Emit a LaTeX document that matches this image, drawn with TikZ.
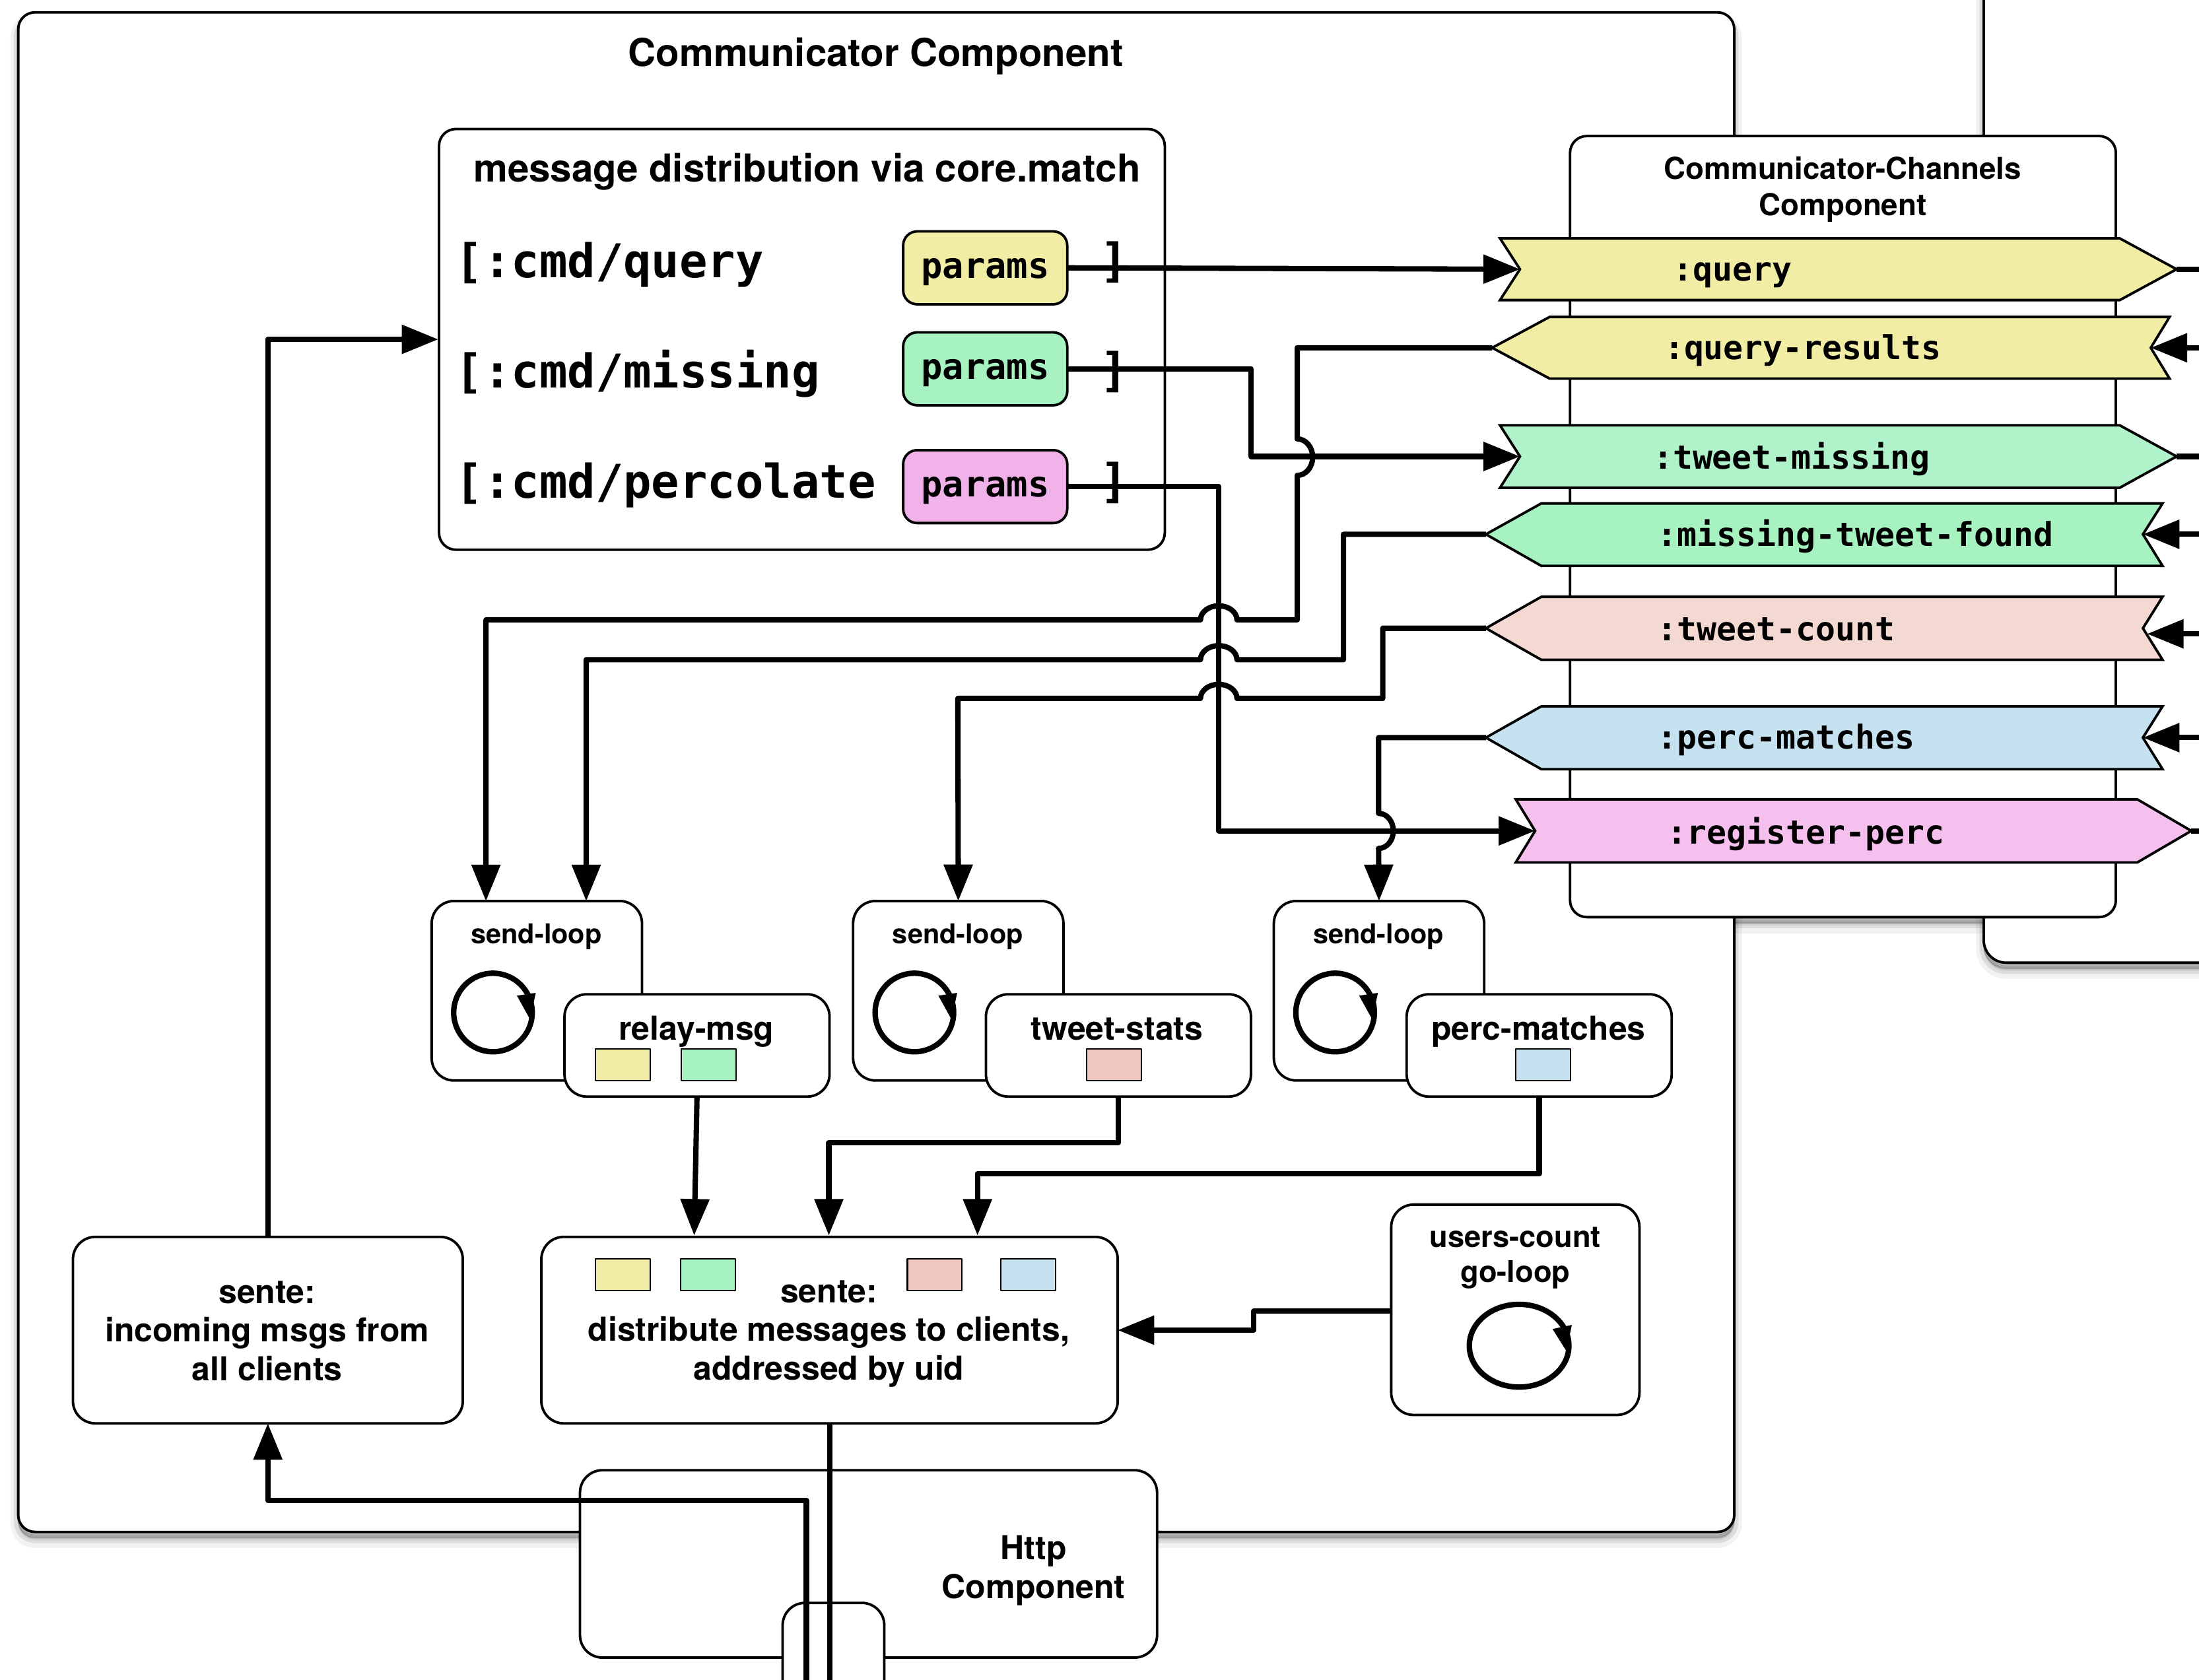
\documentclass[tikz,border=0pt]{standalone}
\usepackage{fontspec}
\setmainfont{TeX Gyre Heros}
\newfontfamily\codefont{DejaVu Sans Mono}
\usepackage{pgf}
\usetikzlibrary{positioning}
\usetikzlibrary{arrows.meta}
\usetikzlibrary{shadows}
\definecolor{qyellow}{HTML}{F1EDA4}
\definecolor{mgreen}{HTML}{B0F3CB}
\definecolor{fgreen}{HTML}{A6F2C0}
\definecolor{cred}{HTML}{F4D9D2}
\definecolor{pblue}{HTML}{C6E2F1}
\definecolor{rpink}{HTML}{F5BFEE}
\definecolor{ppink}{HTML}{F1B2EA}
\definecolor{sred}{HTML}{F0C8C0}
\begin{document}
\begin{tikzpicture}[x=1pt,y=-1pt,>={Triangle[length=26pt,width=20pt]},line join=round]
	\tikzstyle{box}=[draw,fill=white,rectangle,rounded corners=16pt,line width=1.8pt,inner sep=0pt,outer sep=0pt]
	\tikzstyle{blurred}=[general shadow={shadow yshift=-6pt,fill=black,draw=black,opacity=.05,line width=11pt},
		general shadow={shadow yshift=-5pt,fill=black,draw=black,opacity=.09,line width=6pt},
		general shadow={shadow yshift=-4pt,fill=black,draw=black,opacity=.12,line width=1pt}]
	\tikzstyle{title}=[inner sep=0pt,align=center,font=\fontsize{23.5}{27.5}\selectfont\bfseries]
	\tikzstyle{small}=[inner sep=0pt,align=center,font=\fontsize{19.5}{25}\selectfont\bfseries]
	\tikzstyle{band}=[draw,line width=1.8pt,line join=miter]
	\tikzstyle{bandtext}=[inner sep=0pt,anchor=west,font=\fontsize{23.45}{26}\selectfont\codefont\bfseries]
	\tikzstyle{cmd}=[inner sep=0pt,font=\fontsize{33.2}{36}\selectfont\codefont\bfseries]
	\tikzstyle{params}=[box,rounded corners=10pt,minimum width=117pt,minimum height=52pt,text height=19.8pt,text depth=5pt,font=\fontsize{25.3}{28}\selectfont\codefont\bfseries]
	\tikzstyle{swatch}=[draw,line width=1pt,inner sep=0pt,outer sep=0pt,minimum width=39pt,minimum height=22.5pt]
	\tikzstyle{wire}=[->,line width=3.8pt]
	\tikzstyle{spin}=[line width=3.9pt]

	\useasboundingbox (0,0) rectangle (1568,1198);
	\clip (0,0) rectangle (1568,1198);
	\fill[white] (0,0) rectangle (1568,1198);

	% big components
	\fill[white,blurred] (1119.5,97) rectangle (1508.7,654);
	\node[box,blurred,rounded corners=12pt,minimum width=1223.6pt,minimum height=1083.6pt] (comm) at (624.8,550.6) {};
	\node[box,blurred,minimum width=300pt,minimum height=760pt] (right) at (1564.5,306.5) {};
	\node[box,rounded corners=12pt,minimum width=389.2pt,minimum height=557pt] (chan) at (1314.1,375.5) {};
	\node[title,font=\fontsize{27.4}{30}\selectfont\bfseries] (comm_t) at (624.5,40) {Communicator Component};
	\node[title,font=\fontsize{21.5}{26}\selectfont\bfseries] (chan_t) at (1314,135) {Communicator-Channels\\Component};

	% message distribution
	\node[box,rounded corners=12pt,minimum width=517.5pt,minimum height=300pt] (match) at (571.8,242) {};
	\node[title,font=\fontsize{27.4}{30}\selectfont\bfseries] (match_t) at (575.5,122.5) {message distribution via core.match};
	\node[cmd,anchor=base west] (cmd_q) at (324.5,198) {[:cmd/query};
	\node[cmd,anchor=base west] (cmd_m) at (324.5,276.6) {[:cmd/missing};
	\node[cmd,anchor=base west] (cmd_p) at (324.5,355) {[:cmd/percolate};
	\node[params,fill=qyellow] (params_q) at (702.5,191) {params};
	\node[params,fill=fgreen] (params_m) at (702.5,263) {params};
	\node[params,fill=ppink] (params_p) at (702.5,347) {params};
	\node[cmd] (end_q) at (794.5,187) {]};
	\node[cmd] (end_m) at (794.5,265) {]};
	\node[cmd] (end_p) at (794.5,344.5) {]};

	% channels
	\draw[band,fill=qyellow] (1069.6,170) -- (1511.5,170) -- (1552,192) -- (1511.5,214) -- (1069.6,214) -- (1083.8,192) -- cycle;
	\draw[band,fill=qyellow] (1064,248) -- (1105,226) -- (1547,226) -- (1533.6,248) -- (1547,270) -- (1105,270) -- cycle;
	\draw[band,fill=mgreen] (1069.6,303.3) -- (1511.5,303.3) -- (1552,325.5) -- (1511.5,347.8) -- (1069.6,347.8) -- (1083.8,325.5) -- cycle;
	\draw[band,fill=fgreen] (1059.5,381) -- (1099,359) -- (1542,359) -- (1528,381) -- (1542,403.5) -- (1099,403.5) -- cycle;
	\draw[band,fill=cred] (1059.5,448) -- (1099,425.6) -- (1542,425.6) -- (1528,448) -- (1542,470.5) -- (1099,470.5) -- cycle;
	\draw[band,fill=pblue] (1059.5,526) -- (1099,503.7) -- (1542,503.7) -- (1528,526) -- (1542,548.5) -- (1099,548.5) -- cycle;
	\draw[band,fill=rpink] (1080.8,570) -- (1524,570) -- (1562.5,592.5) -- (1524,615) -- (1080.8,615) -- (1094.6,592.5) -- cycle;
	\node[bandtext] (query) at (1193,196) {:query};
	\node[bandtext] (query_res) at (1186.5,250) {:query-results};
	\node[bandtext] (tweet_mis) at (1178.5,327.5) {:tweet-missing};
	\node[bandtext] (mis_found) at (1181.5,382.5) {:missing-tweet-found};
	\node[bandtext] (tweet_cnt) at (1181.5,449) {:tweet-count};
	\node[bandtext] (perc_mat) at (1181.5,527.5) {:perc-matches};
	\node[bandtext] (reg_perc) at (1188.5,594.5) {:register-perc};

	% loops and handlers
	\node[box,minimum width=150pt,minimum height=128pt] (send_0) at (382.8,706.5) {};
	\node[box,minimum width=150pt,minimum height=128pt] (send_1) at (683.3,706.5) {};
	\node[box,minimum width=150pt,minimum height=128pt] (send_2) at (983.3,706.5) {};
	\node[small] (send_0_t) at (382.5,668) {send-loop};
	\node[small] (send_1_t) at (683,668) {send-loop};
	\node[small] (send_2_t) at (983,668) {send-loop};
	\draw[spin] (351.5,722) circle[radius=28];
	\fill (351.5,722) ++(17.1,-12) -- ++(13.4,-2) -- ++(-4,19) -- cycle;
	\draw[spin] (652,722) circle[radius=28];
	\fill (652,722) ++(17.1,-12) -- ++(13.4,-2) -- ++(-4,19) -- cycle;
	\draw[spin] (952,722) circle[radius=28];
	\fill (952,722) ++(17.1,-12) -- ++(13.4,-2) -- ++(-4,19) -- cycle;
	\node[box,minimum width=189pt,minimum height=73pt] (relay) at (497,745.5) {};
	\node[box,minimum width=189pt,minimum height=73pt] (stats) at (797.5,745.5) {};
	\node[box,minimum width=189pt,minimum height=73pt] (matches) at (1097.5,745.5) {};
	\node[title] (relay_t) at (496.5,735.5) {relay-msg};
	\node[title] (stats_t) at (796.5,734) {tweet-stats};
	\node[title] (matches_t) at (1097,735.5) {perc-matches};
	\node[swatch,fill=qyellow] (relay_a) at (444,759.3) {};
	\node[swatch,fill=fgreen] (relay_b) at (505.3,759.3) {};
	\node[swatch,fill=sred] (stats_a) at (794.2,759.3) {};
	\node[swatch,fill=pblue] (matches_a) at (1100.2,759.3) {};

	% sente and http
	\node[box,minimum width=278pt,minimum height=133pt] (incoming) at (191,948.5) {};
	\node[box,minimum width=411pt,minimum height=133pt] (dist) at (591.5,948.5) {};
	\node[box,minimum width=177pt,minimum height=150pt] (users) at (1080.5,934) {};
	\node[title] (incoming_t) at (190.5,949) {sente:\\incoming msgs from\\all clients};
	\node[title] (dist_t) at (591,951) {sente:\\distribute messages to clients,\\addressed by uid};
	\node[title,font=\fontsize{21.3}{25}\selectfont\bfseries] (users_t) at (1080.5,897) {users-count\\go-loop};
	\draw[spin] (1083.2,959.6) ellipse[x radius=35.5,y radius=29.5];
	\fill (1083.2,959.6) ++(23.8,-11.9) -- ++(13.8,-2.9) -- ++(-3.9,18.6) -- cycle;
	\node[swatch,fill=qyellow] (dist_a) at (444,909) {};
	\node[swatch,fill=fgreen] (dist_b) at (505,909) {};
	\node[swatch,fill=sred] (dist_c) at (666.5,909) {};
	\node[swatch,fill=pblue] (dist_d) at (733.2,909) {};
	\node[box,minimum width=411.5pt,minimum height=133.6pt] (http) at (619.3,1115.2) {};
	\node[title] (http_t) at (737,1120) {Http\\Component};
	\node[box,minimum width=72.5pt,minimum height=120pt] (socket) at (594.3,1203) {};

	% free ends and docking points
	\coordinate (query_in) at (1083.8,192);
	\coordinate (query_out) at (1552,192);
	\coordinate (qres_in) at (1533.6,248);
	\coordinate (qres_out) at (1064,248);
	\coordinate (tmis_in) at (1083.8,325.5);
	\coordinate (tmis_out) at (1552,325.5);
	\coordinate (found_in) at (1528,381);
	\coordinate (found_out) at (1059.5,381);
	\coordinate (cnt_in) at (1531,452);
	\coordinate (cnt_out) at (1059.5,448);
	\coordinate (pmat_in) at (1528,526);
	\coordinate (pmat_out) at (1059.5,526);
	\coordinate (reg_in) at (1094.6,592.5);
	\coordinate (reg_out) at (1562.5,592.5);
	\coordinate (east_a) at (1568,192);
	\coordinate (east_b) at (1568,248);
	\coordinate (east_c) at (1568,325.5);
	\coordinate (east_d) at (1568,381);
	\coordinate (east_e) at (1568,452);
	\coordinate (east_f) at (1568,526);
	\coordinate (east_g) at (1568,592.5);
	\coordinate (send_0_a) at (346.5,642.6);
	\coordinate (send_0_b) at (418,642.6);
	\coordinate (dist_in_a) at (495,881);
	\coordinate (dist_in_b) at (591,881);
	\coordinate (dist_in_c) at (697,881);
	\coordinate (match_in) at (312.5,242);
	\coordinate (foot_a) at (575,1198);
	\coordinate (foot_b) at (591.5,1198);
	\coordinate (users_out) at (992,935);

	% connectors
	\draw[wire] (params_q.east) -- (query_in);
	\draw[wire] (params_m.east) -- (892,263) -- (892,325.5) -- (tmis_in);
	\draw[wire] (params_p.east) -- (869,347) -- (869,592.5) -- (reg_in);
	\draw[wire] (qres_out) -- (925,248) -- (925,313) arc[start angle=-90,end angle=90,x radius=11,y radius=13] -- (925,442) -- (882,442) arc[start angle=0,end angle=-180,x radius=13,y radius=10] -- (346.5,442) -- (send_0_a);
	\draw[wire] (found_out) -- (958,381) -- (958,470.4) -- (882,470.4) arc[start angle=0,end angle=-180,x radius=13,y radius=10] -- (418,470.4) -- (send_0_b);
	\draw[wire] (cnt_out) -- (986,448) -- (986,498) -- (882,498) arc[start angle=0,end angle=-180,x radius=13,y radius=10] -- (683,498) -- (send_1.north);
	\draw[wire] (pmat_out) -- (983,526) -- (983,580) arc[start angle=-90,end angle=90,x radius=10.5,y radius=12.5] -- (send_2.north);
	\draw[wire] (east_b) -- (qres_in);
	\draw[wire] (east_d) -- (found_in);
	\draw[wire] (east_e) -- (cnt_in);
	\draw[wire] (east_f) -- (pmat_in);
	\draw[line width=3.8pt] (query_out) -- (east_a);
	\draw[line width=3.8pt] (tmis_out) -- (east_c);
	\draw[line width=3.8pt] (reg_out) -- (east_g);
	\draw[wire] (relay.south) -- (dist_in_a);
	\draw[wire] (stats.south) -- (797.5,815) -- (591,815) -- (dist_in_b);
	\draw[wire] (matches.south) -- (1097.5,837) -- (697,837) -- (dist_in_c);
	\draw[wire] (users_out) -- (894,935) -- (894,948.5) -- (dist.east);
	\draw[wire] (incoming.north) -- (191,242) -- (match_in);
	\draw[wire] (foot_a) -- (575,1070) -- (191,1070) -- (incoming.south);
	\draw[line width=3.8pt] (dist.south) -- (foot_b);
\end{tikzpicture}
\end{document}
